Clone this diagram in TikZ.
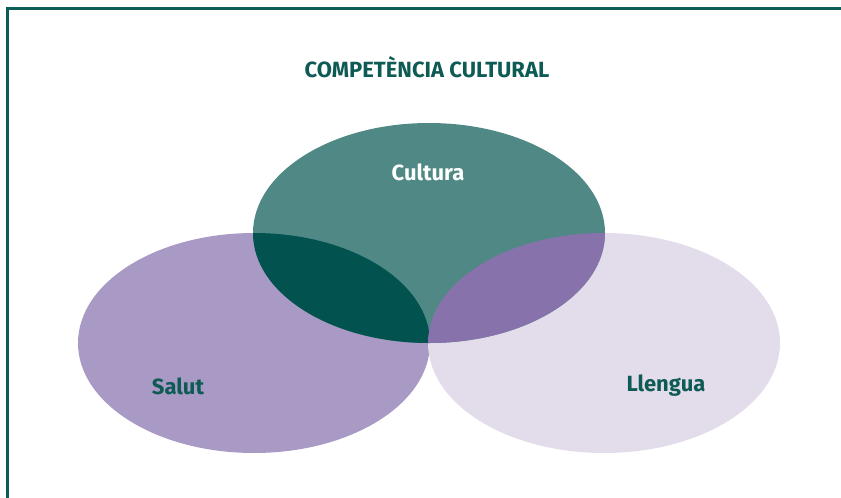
\documentclass[tikz,border=0pt]{standalone}
\usepackage{fontspec}
\setmainfont{Fira Sans}

\definecolor{frameGreen}{HTML}{0B5E57}
\definecolor{textGreen}{HTML}{0E5B55}
\definecolor{culturaFill}{HTML}{4F8884}
\definecolor{salutFill}{HTML}{A99AC5}
\definecolor{llenguaFill}{HTML}{E2DCEB}
\definecolor{culSalFill}{HTML}{02524F}
\definecolor{culLleFill}{HTML}{8872AB}

\tikzset{
  label text/.style={font=\fontsize{22}{26}\selectfont\bfseries, text=textGreen},
}

\begin{document}
\begin{tikzpicture}[x=1pt,y=-1pt]

    % --- Canvas ---
    \useasboundingbox (0,0) rectangle (841,498);

    % --- Coordinates ---
    % Centres of the three ellipses (radii 176 x 110)
    \coordinate (C) at (429,233);   % Cultura
    \coordinate (S) at (254,343);   % Salut
    \coordinate (L) at (604,343);   % Llengua

    % --- Frame ---
    \draw[frameGreen, line width=3pt] (7,498) -- (7,8.5) -- (841,8.5);

    % --- Ellipses ---
    \fill[salutFill] (S) ellipse (176 and 110);
    \fill[llenguaFill] (L) ellipse (176 and 110);
    \fill[culturaFill] (C) ellipse (176 and 110);

    % --- Overlaps ---
    % Cultura and Salut
    \begin{scope}
      \clip (C) ellipse (176 and 110);
      \fill[culSalFill] (S) ellipse (176 and 110);
    \end{scope}
    % Cultura and Llengua
    \begin{scope}
      \clip (C) ellipse (176 and 110);
      \fill[culLleFill] (L) ellipse (176 and 110);
    \end{scope}

    % --- Labels ---
    \node[label text] (title) at (427,67) {COMPETÈNCIA CULTURAL};
    \node[label text, text=white] (cultura) at (428,172) {Cultura};
    \node[label text] (salut) at (178,386) {Salut};
    \node[label text] (llengua) at (666,386) {Llengua};

\end{tikzpicture}
\end{document}
